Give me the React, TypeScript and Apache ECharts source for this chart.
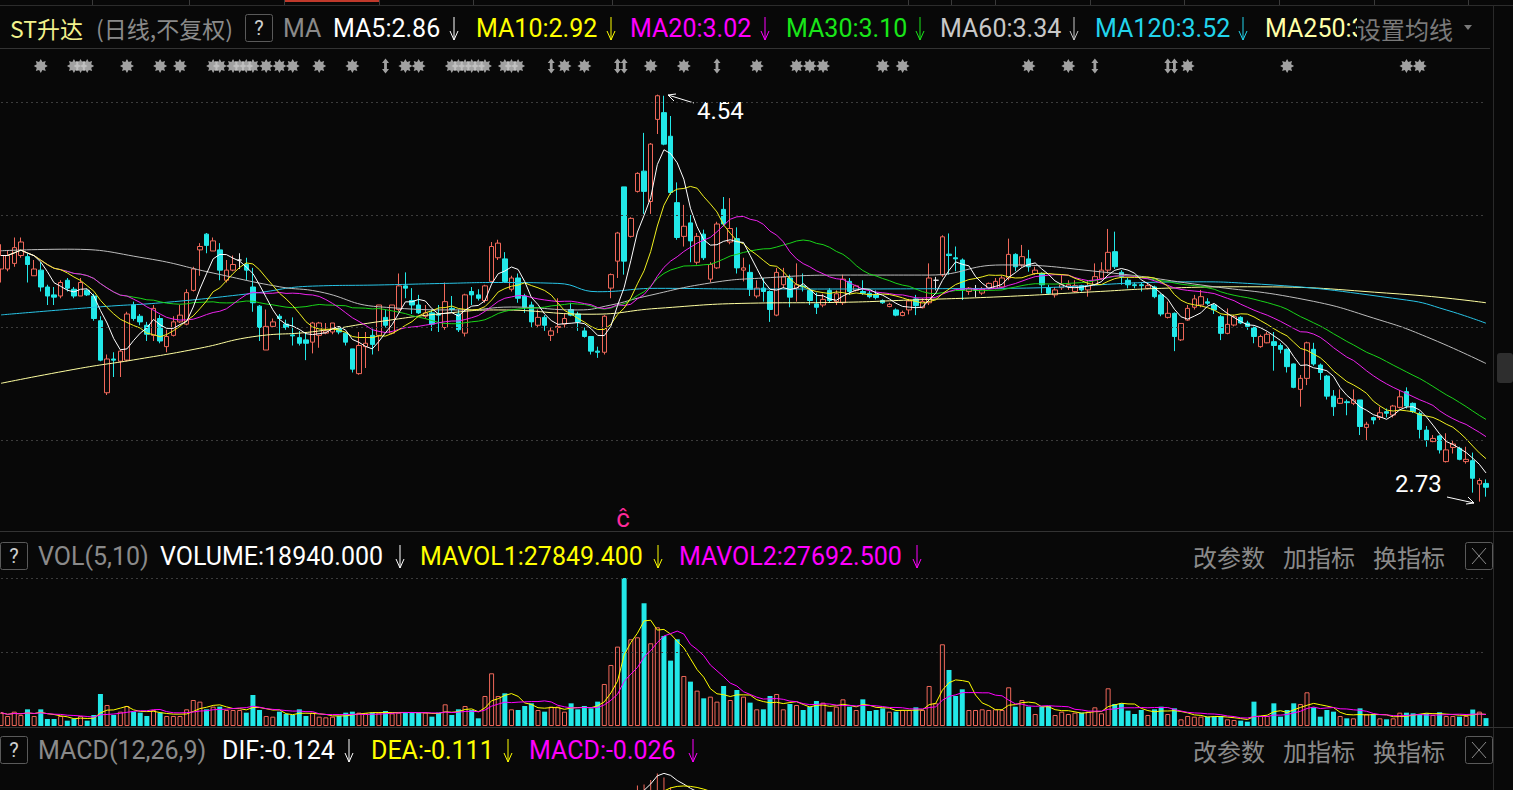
import React, { useEffect, useRef } from 'react';
import * as echarts from 'echarts';

// ---------- DATA ----------
// candles: [open, close, low, high]
const candles: number[][] = [
  [3.76,3.82,3.70,3.87],[3.76,3.82,3.75,3.84],[3.785,3.855,3.77,3.90],[3.82,3.88,3.81,3.90],[3.815,3.78,3.70,3.83],
  [3.73,3.76,3.73,3.80],[3.755,3.68,3.66,3.79],[3.68,3.64,3.60,3.69],[3.645,3.635,3.60,3.68],[3.64,3.70,3.63,3.71],
  [3.71,3.675,3.66,3.72],[3.67,3.64,3.63,3.68],[3.64,3.70,3.64,3.72],[3.665,3.645,3.64,3.67],[3.64,3.54,3.53,3.65],
  [3.53,3.355,3.35,3.55],[3.21,3.36,3.20,3.38],[3.36,3.355,3.28,3.39],[3.35,3.395,3.28,3.40],[3.355,3.56,3.35,3.57],
  [3.60,3.54,3.53,3.615],[3.55,3.525,3.51,3.56],[3.51,3.47,3.44,3.525],[3.465,3.585,3.44,3.60],[3.54,3.44,3.43,3.555],
  [3.415,3.46,3.39,3.49],[3.465,3.525,3.46,3.55],[3.525,3.555,3.52,3.60],[3.515,3.655,3.51,3.67],[3.665,3.76,3.66,3.77],
  [3.845,3.86,3.73,3.875],[3.915,3.865,3.83,3.92],[3.84,3.885,3.84,3.90],[3.845,3.755,3.71,3.875],[3.71,3.755,3.70,3.80],
  [3.755,3.78,3.75,3.82],[3.80,3.80,3.76,3.83],[3.78,3.755,3.71,3.81],[3.68,3.61,3.57,3.765],[3.595,3.50,3.44,3.60],
  [3.40,3.505,3.40,3.58],[3.505,3.525,3.50,3.54],[3.55,3.54,3.445,3.56],[3.515,3.50,3.49,3.535],[3.467,3.463,3.42,3.545],
  [3.455,3.43,3.42,3.485],[3.445,3.43,3.355,3.48],[3.435,3.52,3.385,3.525],[3.465,3.52,3.41,3.525],[3.475,3.485,3.47,3.52],
  [3.48,3.52,3.47,3.52],[3.495,3.48,3.47,3.50],[3.475,3.435,3.42,3.48],[3.405,3.315,3.30,3.405],[3.295,3.42,3.29,3.48],
  [3.415,3.43,3.32,3.48],[3.465,3.425,3.38,3.495],[3.465,3.60,3.395,3.60],[3.545,3.51,3.50,3.58],[3.475,3.60,3.47,3.60],
  [3.58,3.685,3.57,3.74],[3.685,3.675,3.63,3.745],[3.62,3.60,3.56,3.675],[3.60,3.565,3.56,3.645],[3.55,3.565,3.54,3.60],
  [3.565,3.515,3.485,3.58],[3.56,3.555,3.48,3.60],[3.50,3.615,3.49,3.70],[3.585,3.58,3.57,3.64],[3.56,3.49,3.48,3.58],
  [3.475,3.645,3.46,3.65],[3.66,3.645,3.60,3.68],[3.645,3.63,3.62,3.67],[3.62,3.685,3.61,3.69],[3.705,3.86,3.70,3.88],
  [3.81,3.875,3.80,3.89],[3.805,3.705,3.70,3.835],[3.67,3.72,3.66,3.73],[3.72,3.63,3.61,3.74],[3.64,3.59,3.565,3.65],
  [3.60,3.525,3.50,3.615],[3.51,3.545,3.50,3.58],[3.545,3.51,3.485,3.555],[3.465,3.485,3.44,3.50],[3.50,3.505,3.475,3.63],
  [3.515,3.54,3.50,3.56],[3.58,3.555,3.55,3.61],[3.56,3.525,3.485,3.57],[3.485,3.46,3.455,3.50],[3.46,3.395,3.38,3.46],
  [3.395,3.39,3.365,3.415],[3.39,3.55,3.38,3.555],[3.675,3.735,3.63,3.74],[3.795,3.92,3.72,3.925],[4.125,3.795,3.735,4.125],
  [3.905,3.985,3.90,3.99],[4.105,4.185,4.10,4.19],[4.195,4.105,4.005,4.365],[4.06,4.315,4.005,4.32],[4.425,4.53,4.36,4.535],
  [4.455,4.315,4.31,4.53],[4.35,4.10,4.09,4.44],[4.055,3.90,3.89,4.145],[3.905,3.95,3.86,4.045],[3.965,3.885,3.79,4.00],
  [3.79,3.905,3.78,3.92],[3.915,3.81,3.80,3.935],[3.715,3.78,3.70,3.79],[3.765,3.96,3.76,3.97],[4.025,3.96,3.95,4.08],
  [3.88,3.94,3.87,4.075],[3.895,3.765,3.74,3.945],[3.755,3.765,3.705,3.81],[3.745,3.67,3.64,3.78],[3.64,3.675,3.63,3.71],
  [3.675,3.66,3.615,3.72],[3.66,3.58,3.525,3.665],[3.555,3.745,3.55,3.765],[3.69,3.725,3.675,3.765],[3.72,3.635,3.59,3.735],
  [3.675,3.69,3.615,3.785],[3.685,3.68,3.66,3.74],[3.665,3.62,3.60,3.675],[3.605,3.59,3.56,3.655],[3.60,3.625,3.59,3.65],
  [3.665,3.62,3.61,3.675],[3.615,3.65,3.60,3.665],[3.61,3.715,3.60,3.735],[3.705,3.66,3.645,3.72],[3.665,3.685,3.66,3.69],
  [3.66,3.652,3.645,3.71],[3.652,3.637,3.63,3.665],[3.645,3.633,3.625,3.665],[3.62,3.61,3.605,3.625],[3.593,3.603,3.59,3.61],
  [3.578,3.555,3.55,3.585],[3.553,3.567,3.55,3.575],[3.578,3.618,3.558,3.627],[3.627,3.597,3.555,3.645],[3.588,3.615,3.585,3.63],
  [3.61,3.72,3.60,3.785],[3.71,3.71,3.665,3.725],[3.733,3.903,3.725,3.91],[3.826,3.82,3.735,3.918],[3.81,3.805,3.75,3.86],
  [3.80,3.667,3.622,3.807],[3.66,3.675,3.645,3.68],[3.667,3.667,3.635,3.689],[3.653,3.67,3.645,3.68],[3.674,3.696,3.67,3.70],
  [3.675,3.705,3.67,3.72],[3.68,3.72,3.675,3.73],[3.72,3.825,3.71,3.895],[3.825,3.77,3.75,3.83],[3.778,3.815,3.77,3.867],
  [3.805,3.77,3.748,3.845],[3.74,3.755,3.735,3.77],[3.74,3.69,3.652,3.745],[3.677,3.652,3.645,3.69],[3.645,3.667,3.633,3.68],
  [3.677,3.69,3.667,3.733],[3.683,3.69,3.667,3.71],[3.66,3.686,3.655,3.71],[3.686,3.667,3.66,3.69],[3.667,3.686,3.637,3.71],
  [3.69,3.726,3.685,3.785],[3.718,3.755,3.71,3.79],[3.755,3.834,3.74,3.938],[3.837,3.77,3.76,3.926],[3.745,3.726,3.69,3.755],
  [3.71,3.69,3.674,3.72],[3.69,3.686,3.674,3.70],[3.69,3.686,3.66,3.70],[3.674,3.686,3.67,3.70],[3.68,3.637,3.63,3.686],
  [3.645,3.56,3.55,3.652],[3.545,3.563,3.54,3.615],[3.563,3.46,3.395,3.567],[3.445,3.518,3.44,3.52],[3.533,3.585,3.53,3.60],
  [3.59,3.627,3.58,3.645],[3.60,3.637,3.59,3.667],[3.614,3.608,3.60,3.63],[3.60,3.578,3.56,3.607],[3.548,3.474,3.444,3.556],
  [3.474,3.514,3.47,3.585],[3.511,3.548,3.505,3.556],[3.545,3.52,3.515,3.55],[3.52,3.505,3.49,3.53],[3.50,3.46,3.43,3.504],
  [3.415,3.46,3.41,3.468],[3.432,3.47,3.43,3.48],[3.437,3.42,3.308,3.48],[3.42,3.403,3.385,3.43],[3.403,3.326,3.30,3.407],
  [3.338,3.234,3.23,3.34],[3.225,3.274,3.148,3.289],[3.274,3.432,3.244,3.437],[3.403,3.338,3.33,3.432],[3.333,3.30,3.267,3.34],
  [3.284,3.195,3.18,3.289],[3.195,3.148,3.107,3.222],[3.163,3.185,3.16,3.225],[3.17,3.166,3.11,3.18],[3.163,3.178,3.155,3.225],
  [3.178,3.06,3.022,3.178],[3.056,3.07,3.00,3.081],[3.10,3.089,3.07,3.104],[3.10,3.121,3.089,3.148],[3.126,3.119,3.10,3.14],
  [3.111,3.151,3.10,3.156],[3.145,3.192,3.14,3.222],[3.215,3.151,3.14,3.234],[3.163,3.126,3.12,3.167],[3.118,3.047,3.007,3.126],
  [3.044,3.00,2.97,3.062],[2.993,3.007,2.99,3.022],[3.018,2.956,2.94,3.022],[2.904,2.956,2.90,3.03],[2.967,2.982,2.94,3.00],
  [2.963,2.914,2.91,2.97],[2.904,2.914,2.895,2.97],[2.908,2.83,2.766,2.944],[2.804,2.82,2.726,2.83],[2.807,2.79,2.748,2.825],
];

const volumes: number[] = [
  32000,24000,34400,26400,40000,24000,40000,16800,16800,24000,
  12800,16800,24000,12800,26400,76800,50400,26400,34400,48000,
  34400,32000,24000,38400,32000,24000,24000,24000,40000,62400,
  58400,40000,46400,46400,38400,38400,38400,32000,74400,38400,
  24000,22400,34400,28800,26400,40000,24000,32000,22400,20800,
  22400,24000,32000,34400,32000,30400,32000,32000,36000,30400,
  32000,32000,32000,32000,32000,22400,32000,52000,26400,40000,
  48000,38400,18400,72000,126400,72000,78400,40000,38400,48000,
  54400,38400,34400,46400,46400,34400,54400,40000,48000,42400,
  58400,100800,146400,190400,355000,208000,212800,294400,198400,236800,
  216000,156800,208000,120000,106400,84800,66400,70400,58400,96000,
  62400,86400,70400,56000,40000,40000,72000,76800,40000,52800,
  50400,38400,46400,60000,56000,34400,46400,64000,46400,38400,
  64000,36000,38400,42400,34400,34400,38400,38400,44800,38400,
  96000,54400,196000,134400,72000,88000,38400,38400,40000,38400,
  40000,38400,92800,46400,62400,46400,28800,46400,48000,26400,
  34400,28800,32000,32000,34400,44800,30400,90400,52800,54400,
  36800,28800,38400,26400,40000,46400,28800,42400,16000,24000,
  22400,22400,22400,22400,24000,16000,14400,12800,10400,58400,
  24000,24000,54400,22400,38400,54400,52800,80800,44800,22400,
  38400,34400,24000,18400,18400,42400,28800,28800,18400,16000,
  18400,32000,32000,30400,28800,30400,26400,32878,24000,24000,
  22400,24000,39500,34407,18940,
];

// long moving averages: [candle index, value]
const ma60Pts: number[][] = [
  [0,3.841],[10,3.848],[22,3.807],[32,3.742],[42,3.681],[48,3.659],[57,3.592],[70,3.578],[77,3.591],[87,3.578],
  [92,3.60],[97,3.637],[107,3.698],[115,3.72],[127,3.733],[140,3.733],[151,3.778],[166,3.747],[181,3.689],
  [197,3.622],[208,3.533],[215,3.459],[224,3.34],
];
const ma120Pts: number[][] = [
  [0,3.556],[15,3.592],[25,3.612],[38,3.652],[47,3.684],[57,3.689],[67,3.696],[75,3.70],[84,3.696],[90,3.659],
  [99,3.674],[113,3.671],[151,3.674],[180,3.703],[188,3.696],[212,3.622],[218,3.578],[224,3.519],
];
const ma250Pts: number[][] = [
  [0,3.252],[12,3.319],[20,3.356],[30,3.408],[38,3.459],[47,3.481],[57,3.526],[67,3.563],[75,3.578],[89,3.559],
  [99,3.585],[113,3.608],[127,3.612],[137,3.622],[151,3.637],[165,3.659],[175,3.674],[188,3.681],[211,3.649],[224,3.61],
];

const starMarks: number[] = [6,11,12,13,19,24,27,32,33,35,36,37,38,40,42,44,48,53,61,63,68,69,70,71,72,73,76,77,78,85,88,98,103,114,120,122,124,133,136,155,161,179,194,212,214];
const arrowMarks: number[] = [58,83,93,94,108,165,176,177];

const priceLines = [3.0, 3.5, 4.0, 4.5];
const volMax = 355000;

// ---------- STYLE ----------
const BG = '#080808';
const RED = '#f0685a';
const CYAN = '#22e8e8';
const FONT = 'Roboto, "Noto Sans CJK SC", sans-serif';
const CJK = '"Noto Sans CJK SC", sans-serif';

const N = candles.length;
const cats = candles.map((_, i) => String(i + 1));
const closes = candles.map(c => c[1]);

function movAvg(src: number[], n: number) {
  return src.map((_, i) => {
    const s = Math.max(0, i - n + 1);
    let sum = 0;
    for (let j = s; j <= i; j++) sum += src[j];
    return +(sum / (i - s + 1)).toFixed(4);
  });
}
function sparse(pts: number[][]) {
  const arr: (number | null)[] = new Array(N).fill(null);
  pts.forEach(([k, v]) => { arr[k] = v; });
  return arr;
}
function starPath(n: number, ri: number) {
  let d = '';
  for (let i = 0; i < 2 * n; i++) {
    const r = i % 2 ? ri : 1;
    const a = (Math.PI * i) / n;
    d += (i ? 'L' : 'M') + (50 + 50 * r * Math.cos(a)).toFixed(1) + ' ' + (50 + 50 * r * Math.sin(a)).toFixed(1);
  }
  return 'path://' + d + 'Z';
}

// MACD from closes
const ema12: number[] = []; const ema26: number[] = []; const dif: number[] = []; const dea: number[] = []; const macd: number[] = [];
closes.forEach((c, i) => {
  ema12[i] = i ? ema12[i - 1] * 11 / 13 + c * 2 / 13 : c;
  ema26[i] = i ? ema26[i - 1] * 25 / 27 + c * 2 / 27 : c;
  dif[i] = ema12[i] - ema26[i];
  dea[i] = i ? dea[i - 1] * 0.8 + dif[i] * 0.2 : dif[i];
  macd[i] = 2 * (dif[i] - dea[i]);
});
const macdMax = Math.max(...dif.map(Math.abs)) * 1.0;

function txt(x: number, y: number, text: string, fill: string, size = 25, family = FONT, align = 'left') {
  return {
    type: 'text', x, y, silent: true,
    style: { text, fill, font: `${size}px ${family}`, textAlign: align, textVerticalAlign: 'middle', verticalAlign: 'middle' },
  };
}
function arrowDown(x: number, y1: number, y2: number, color: string) {
  return [
    { type: 'polyline', silent: true, shape: { points: [[x, y1], [x, y2]] }, style: { stroke: color, lineWidth: 1, fill: null } },
    { type: 'polyline', silent: true, shape: { points: [[x - 4, y2 - 9], [x, y2], [x + 4, y2 - 9]] }, style: { stroke: color, lineWidth: 1, fill: null } },
  ];
}
function qBox(x: number, y: number) {
  return [
    { type: 'rect', silent: true, shape: { x: x + 0.5, y: y + 0.5, width: 27, height: 27, r: 2 }, style: { stroke: '#5a5a5a', fill: null, lineWidth: 1 } },
    txt(x + 14, y + 14, '?', '#d0d0d0', 20, FONT, 'center'),
  ];
}
function rightButtons(yc: number) {
  return [
    txt(1193, yc, '改参数', '#8a8a8a', 24, CJK),
    txt(1283, yc, '加指标', '#8a8a8a', 24, CJK),
    txt(1373, yc, '换指标', '#8a8a8a', 24, CJK),
    { type: 'rect', silent: true, shape: { x: 1465.5, y: yc - 13.5, width: 27, height: 27, r: 2 }, style: { stroke: '#5a5a5a', fill: null, lineWidth: 1 } },
    { type: 'polyline', silent: true, shape: { points: [[1472, yc - 8], [1486, yc + 8]] }, style: { stroke: '#8a8a8a', lineWidth: 1, fill: null } },
    { type: 'polyline', silent: true, shape: { points: [[1486, yc - 8], [1472, yc + 8]] }, style: { stroke: '#8a8a8a', lineWidth: 1, fill: null } },
  ];
}
function hline(y: number, x1: number, x2: number, color: string) {
  return { type: 'line', silent: true, shape: { x1, y1: y, x2, y2: y }, style: { stroke: color, lineWidth: 1 } };
}
function vline(x: number, y1: number, y2: number, color: string) {
  return { type: 'line', silent: true, shape: { x1: x, y1, x2: x, y2 }, style: { stroke: color, lineWidth: 1 } };
}

export default function App() {
  const ref = useRef<HTMLDivElement>(null);
  useEffect(() => {
    if (!ref.current) return;
    const chart = echarts.init(ref.current, undefined, { renderer: 'svg' });

    const volData = volumes.map((v, i) => {
      const up = candles[i][1] >= candles[i][0];
      return {
        value: v,
        itemStyle: up ? { color: 'rgba(0,0,0,0)', borderColor: RED, borderWidth: 1 } : { color: CYAN, borderColor: CYAN, borderWidth: 0 },
      };
    });

    const grids = [
      { left: 1, width: 1485, top: 80, height: 450 },
      { left: 1, width: 1485, top: 578, height: 148 },
      { left: 1, width: 1485, top: 773, height: 300 },
      { left: 1, width: 1485, top: 56, height: 20 },
    ];
    const xAxes = grids.map((_, i) => ({
      type: 'category', gridIndex: i, data: cats, boundaryGap: false,
      axisLine: { show: false }, axisTick: { show: false }, axisLabel: { show: false }, splitLine: { show: false },
    }));
    const yBase = { axisLine: { show: false }, axisTick: { show: false }, axisLabel: { show: false }, splitLine: { show: false } };
    const yAxes = [
      { type: 'value', gridIndex: 0, min: 2.6, max: 4.6, scale: true, ...yBase },
      { type: 'value', gridIndex: 1, min: 0, max: volMax, ...yBase },
      { type: 'value', gridIndex: 2, min: -macdMax * 0.9, max: macdMax * 1.01, ...yBase },
      { type: 'value', gridIndex: 3, min: -1, max: 1, ...yBase },
    ];
    const dotted = { color: '#3c3c3c', type: [2, 3], width: 1 };
    const maLine = (name: string, data: any[], color: string, smooth = false) => ({
      name, type: 'line', xAxisIndex: 0, yAxisIndex: 0, data, showSymbol: false, symbol: 'none',
      smooth, connectNulls: true, silent: true, z: 3, lineStyle: { color, width: 1 },
    });

    const graphics: any[] = [
      // top tab strip
      hline(5.5, 0, 1513, '#2c2c2c'),
      { type: 'rect', silent: true, shape: { x: 284, y: 0, width: 95, height: 2 }, style: { fill: '#c0392b' } },
      ...[92, 189, 284, 379, 473, 612, 908, 951, 995, 1090, 1184, 1279, 1374, 1468].map(x => vline(x + 0.5, 0, 5, '#3a3a3a')),
      // header
      txt(10, 28, 'ST升达', '#f2f28c', 23, CJK),
      txt(96, 28, '(日线,不复权)', '#8a8a8a', 23, CJK),
      ...qBox(245, 14),
      txt(283, 28, 'MA', '#8a8a8a'),
      txt(333, 28, 'MA5:2.86', '#ffffff'), ...arrowDown(454, 17, 40, '#ffffff'),
      txt(476, 28, 'MA10:2.92', '#ffff00'), ...arrowDown(611, 17, 40, '#ffff00'),
      txt(630, 28, 'MA20:3.02', '#ff00ff'), ...arrowDown(765, 17, 40, '#ff00ff'),
      txt(786, 28, 'MA30:3.10', '#19e619'), ...arrowDown(920, 17, 40, '#19e619'),
      txt(940, 28, 'MA60:3.34', '#c8c8c8'), ...arrowDown(1074, 17, 40, '#c8c8c8'),
      txt(1095, 28, 'MA120:3.52', '#22d4ec'), ...arrowDown(1243, 17, 40, '#22d4ec'),
      txt(1265, 28, 'MA250:3', '#ffffa8'),
      { type: 'rect', silent: true, shape: { x: 1357, y: 12, width: 100, height: 32 }, style: { fill: BG } },
      txt(1357, 28, '设置均线', '#7a7a7a', 24, CJK),
      { type: 'polygon', silent: true, shape: { points: [[1464, 25], [1472, 25], [1468, 30]] }, style: { fill: '#7a7a7a' } },
      hline(48.5, 0, 1490, '#333333'),
      // panel separators
      vline(1493.5, 5, 790, '#2a2a2a'),
      { type: 'rect', silent: true, shape: { x: 1497, y: 353, width: 16, height: 30, r: 3 }, style: { fill: '#2e2e2e' } },
      hline(531.5, 0, 1513, '#333333'),
      hline(727.5, 0, 1513, '#333333'),
      // price annotations
      txt(697, 111, '4.54', '#ffffff', 24),
      { type: 'polyline', silent: true, shape: { points: [[694, 103], [668, 95]] }, style: { stroke: '#ffffff', lineWidth: 1, fill: null } },
      { type: 'polyline', silent: true, shape: { points: [[676, 94], [668, 95], [674, 101]] }, style: { stroke: '#ffffff', lineWidth: 1, fill: null } },
      txt(1395, 484, '2.73', '#ffffff', 24),
      { type: 'polyline', silent: true, shape: { points: [[1447, 497], [1474, 503]] }, style: { stroke: '#ffffff', lineWidth: 1, fill: null } },
      { type: 'polyline', silent: true, shape: { points: [[1466, 504], [1474, 503], [1468, 497]] }, style: { stroke: '#ffffff', lineWidth: 1, fill: null } },
      txt(623, 518, 'ĉ', '#ff2a9a', 26, FONT, 'center'),
      // volume header
      ...qBox(0, 542),
      txt(38, 556, 'VOL(5,10)', '#8a8a8a'),
      txt(160, 556, 'VOLUME:18940.000', '#ffffff'), ...arrowDown(400, 545, 568, '#ffffff'),
      txt(420, 556, 'MAVOL1:27849.400', '#ffff00'), ...arrowDown(658, 545, 568, '#ffff00'),
      txt(679, 556, 'MAVOL2:27692.500', '#ff00ff'), ...arrowDown(917, 545, 568, '#ff00ff'),
      ...rightButtons(556),
      // macd header
      ...qBox(0, 736),
      txt(38, 750, 'MACD(12,26,9)', '#8a8a8a'),
      txt(222, 750, 'DIF:-0.124', '#ffffff'), ...arrowDown(349, 739, 762, '#ffffff'),
      txt(371, 750, 'DEA:-0.111', '#ffff00'), ...arrowDown(508, 739, 762, '#ffff00'),
      txt(529, 750, 'MACD:-0.026', '#ff00ff'), ...arrowDown(693, 739, 762, '#ff00ff'),
      ...rightButtons(750),
    ];

    chart.setOption({
      animation: false,
      backgroundColor: BG,
      grid: grids,
      xAxis: xAxes,
      yAxis: yAxes,
      graphic: graphics,
      series: [
        {
          name: 'K', type: 'candlestick', xAxisIndex: 0, yAxisIndex: 0, data: candles, barWidth: 5, z: 2, silent: true,
          itemStyle: { color: 'rgba(0,0,0,0)', color0: CYAN, borderColor: RED, borderColor0: CYAN, borderColorDoji: '#e6e6e6', borderWidth: 1 },
          markLine: {
            silent: true, symbol: ['none', 'none'], label: { show: false }, lineStyle: dotted,
            data: priceLines.map(v => ({ yAxis: v })),
          },
        },
        maLine('MA250', sparse(ma250Pts), '#ffffa0', true),
        maLine('MA120', sparse(ma120Pts), '#28c4e6', true),
        maLine('MA60', sparse(ma60Pts), '#bdbdbd', true),
        maLine('MA30', movAvg(closes, 30), '#19d419'),
        maLine('MA20', movAvg(closes, 20), '#ee22ee'),
        maLine('MA10', movAvg(closes, 10), '#f0f020'),
        maLine('MA5', movAvg(closes, 5), '#ffffff'),
        {
          name: 'VOL', type: 'bar', xAxisIndex: 1, yAxisIndex: 1, data: volData, barWidth: 5, silent: true,
          markLine: {
            silent: true, symbol: ['none', 'none'], label: { show: false }, lineStyle: dotted,
            data: [{ yAxis: volMax / 2 }, { yAxis: volMax }],
          },
        },
        { name: 'MAVOL1', type: 'line', xAxisIndex: 1, yAxisIndex: 1, data: movAvg(volumes, 5), showSymbol: false, symbol: 'none', silent: true, lineStyle: { color: '#ffff00', width: 1 } },
        { name: 'MAVOL2', type: 'line', xAxisIndex: 1, yAxisIndex: 1, data: movAvg(volumes, 10), showSymbol: false, symbol: 'none', silent: true, lineStyle: { color: '#ff00ff', width: 1 } },
        {
          name: 'MACD', type: 'bar', xAxisIndex: 2, yAxisIndex: 2, barWidth: 1, silent: true,
          data: macd.map(v => ({ value: +v.toFixed(4), itemStyle: { color: v >= 0 ? RED : CYAN } })),
          markLine: {
            silent: true, symbol: ['none', 'none'], label: { show: false }, lineStyle: dotted,
            data: [{ yAxis: macdMax * 1.01 }],
          },
        },
        { name: 'DIF', type: 'line', xAxisIndex: 2, yAxisIndex: 2, data: dif.map(v => +v.toFixed(4)), showSymbol: false, symbol: 'none', silent: true, lineStyle: { color: '#ffffff', width: 1 } },
        { name: 'DEA', type: 'line', xAxisIndex: 2, yAxisIndex: 2, data: dea.map(v => +v.toFixed(4)), showSymbol: false, symbol: 'none', silent: true, lineStyle: { color: '#ffff00', width: 1 } },
        {
          name: 'news', type: 'scatter', xAxisIndex: 3, yAxisIndex: 3, silent: true,
          data: starMarks.map(k => [k, 0]), symbol: starPath(8, 0.62), symbolSize: 14,
          itemStyle: { color: '#c8c8c8' },
        },
        {
          name: 'news2', type: 'scatter', xAxisIndex: 3, yAxisIndex: 3, silent: true,
          data: arrowMarks.map(k => [k, 0]), symbol: 'path://M5 0 L10 6 L7 6 L7 14 L10 14 L5 20 L0 14 L3 14 L3 6 L0 6 Z', symbolSize: [7, 15],
          itemStyle: { color: '#c8c8c8' },
        },
      ],
    });
    return () => chart.dispose();
  }, []);
  return <div ref={ref} style={{ position: 'fixed', left: 0, top: 0, width: 1513, height: 790, background: BG }} />;
}
